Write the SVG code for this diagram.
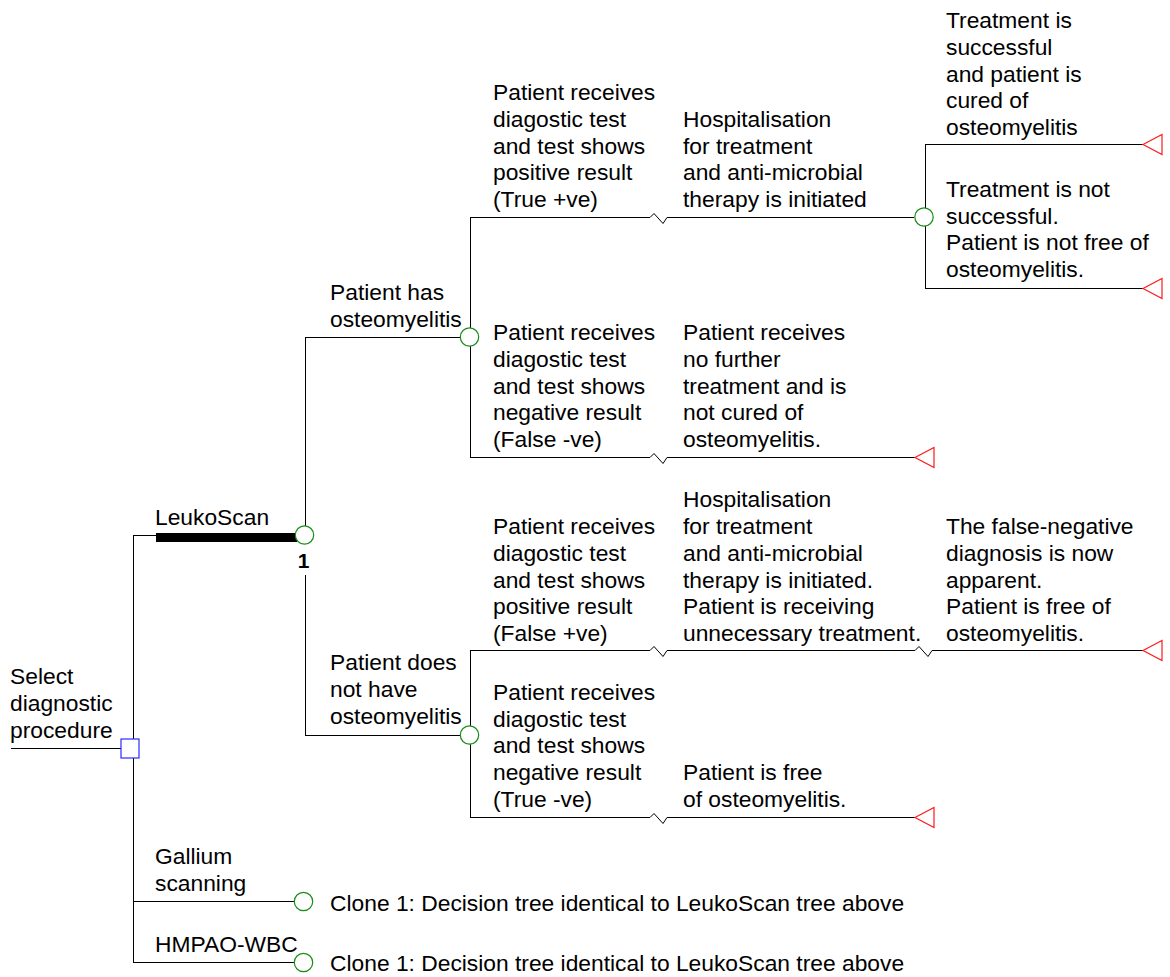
<svg xmlns="http://www.w3.org/2000/svg" width="1170" height="977" viewBox="0 0 1170 977">
<style>
text{font-family:"Liberation Sans",Arial,sans-serif;font-size:22.8px;fill:#000}
.ln{fill:none;stroke:#000;stroke-width:1}
.ch{fill:#fff;stroke:#1a8c1a;stroke-width:1.2}
.dec{fill:#fff;stroke:#2a2aff;stroke-width:1.2}
.term{fill:#fff;stroke:#ff1a1a;stroke-width:1.2}
.b{font-weight:bold;font-size:21px}
</style>
<rect width="1170" height="977" fill="#fff"/>
<g id="connectors">
<path class="ln" d="M11,748.5H121"/>
<path class="ln" d="M133.5,535V962"/>
<path class="ln" d="M133,535.5H156"/>
<rect x="156" y="533" width="141" height="9" fill="#000"/>
<path class="ln" d="M133,901.5H294"/>
<path class="ln" d="M133,962.5H294"/>
<path class="ln" d="M305.5,526V337M305.5,575V735"/>
<path class="ln" d="M305,337.5H460"/>
<path class="ln" d="M305,735.5H460"/>
<path class="ln" d="M470.5,217V457"/>
<path class="ln" d="M470.5,650V817"/>
<path class="ln" d="M470,217.5H650l4,-4l9,10l4,-6H914"/>
<path class="ln" d="M470,457.5H650l4,-4l9,10l4,-6H915"/>
<path class="ln" d="M470,650.5H650l4,-4l9,10l4,-6H915l4,-4l9,10l4,-6H1143"/>
<path class="ln" d="M470,817.5H650l4,-4l9,10l4,-6H915"/>
<path class="ln" d="M925.5,144V288"/>
<path class="ln" d="M925,144.5H1143"/>
<path class="ln" d="M925,288.5H1143"/>
</g>
<g id="node-decision">
<rect class="dec" x="121" y="739" width="18" height="19"/>
<text><tspan x="10" y="684">Select</tspan><tspan x="10" y="711">diagnostic</tspan><tspan x="10" y="738">procedure</tspan></text>
</g>
<g id="node-leukoscan">
<text x="155" y="525">LeukoScan</text>
<circle class="ch" cx="304.5" cy="535" r="9.2"/>
<text class="b" x="303.5" y="568" text-anchor="middle">1</text>
</g>
<g id="node-has">
<text><tspan x="330" y="300">Patient has</tspan><tspan x="330" y="327">osteomyelitis</tspan></text>
<circle class="ch" cx="469.5" cy="337" r="9.2"/>
</g>
<g id="node-truepos">
<text><tspan x="493" y="100">Patient receives</tspan><tspan x="493" y="127">diagostic test</tspan><tspan x="493" y="153.5">and test shows</tspan><tspan x="493" y="180">positive result</tspan><tspan x="493" y="207">(True +ve)</tspan></text>
<text><tspan x="683" y="127">Hospitalisation</tspan><tspan x="683" y="153.5">for treatment</tspan><tspan x="683" y="180">and anti-microbial</tspan><tspan x="683" y="207">therapy is initiated</tspan></text>
<circle class="ch" cx="924" cy="217" r="9.2"/>
</g>
<g id="node-success">
<text><tspan x="946" y="28">Treatment is</tspan><tspan x="946" y="55">successful</tspan><tspan x="946" y="81.5">and patient is</tspan><tspan x="946" y="108">cured of</tspan><tspan x="946" y="135">osteomyelitis</tspan></text>
<polygon class="term" points="1143,144.5 1162,134.5 1162,154.5"/>
</g>
<g id="node-notsuccess">
<text><tspan x="946" y="197">Treatment is not</tspan><tspan x="946" y="223.5">successful.</tspan><tspan x="946" y="250">Patient is not free of</tspan><tspan x="946" y="277">osteomyelitis.</tspan></text>
<polygon class="term" points="1143,288.5 1162,278.5 1162,298.5"/>
</g>
<g id="node-falseneg">
<text><tspan x="493" y="340">Patient receives</tspan><tspan x="493" y="367">diagostic test</tspan><tspan x="493" y="393.5">and test shows</tspan><tspan x="493" y="420">negative result</tspan><tspan x="493" y="447">(False -ve)</tspan></text>
<text><tspan x="683" y="340">Patient receives</tspan><tspan x="683" y="367">no further</tspan><tspan x="683" y="393.5">treatment and is</tspan><tspan x="683" y="420">not cured of</tspan><tspan x="683" y="447">osteomyelitis.</tspan></text>
<polygon class="term" points="915,457.5 934,447.5 934,467.5"/>
</g>
<g id="node-hasnot">
<text><tspan x="330" y="670">Patient does</tspan><tspan x="330" y="697">not have</tspan><tspan x="330" y="724">osteomyelitis</tspan></text>
<circle class="ch" cx="469.5" cy="735" r="9.2"/>
</g>
<g id="node-falsepos">
<text><tspan x="493" y="534">Patient receives</tspan><tspan x="493" y="561">diagostic test</tspan><tspan x="493" y="587.5">and test shows</tspan><tspan x="493" y="614">positive result</tspan><tspan x="493" y="641">(False +ve)</tspan></text>
<text><tspan x="683" y="507">Hospitalisation</tspan><tspan x="683" y="534">for treatment</tspan><tspan x="683" y="561">and anti-microbial</tspan><tspan x="683" y="587.5">therapy is initiated.</tspan><tspan x="683" y="614">Patient is receiving</tspan><tspan x="683" y="641">unnecessary treatment.</tspan></text>
<text><tspan x="946" y="534">The false-negative</tspan><tspan x="946" y="561">diagnosis is now</tspan><tspan x="946" y="587.5">apparent.</tspan><tspan x="946" y="614">Patient is free of</tspan><tspan x="946" y="641">osteomyelitis.</tspan></text>
<polygon class="term" points="1143,650.5 1162,640.5 1162,660.5"/>
</g>
<g id="node-trueneg">
<text><tspan x="493" y="700">Patient receives</tspan><tspan x="493" y="726.5">diagostic test</tspan><tspan x="493" y="753">and test shows</tspan><tspan x="493" y="780">negative result</tspan><tspan x="493" y="806.5">(True -ve)</tspan></text>
<text><tspan x="683" y="780">Patient is free</tspan><tspan x="683" y="806.5">of osteomyelitis.</tspan></text>
<polygon class="term" points="915,817.5 934,807.5 934,827.5"/>
</g>
<g id="node-gallium">
<text><tspan x="155" y="864">Gallium</tspan><tspan x="155" y="891">scanning</tspan></text>
<circle class="ch" cx="303.5" cy="901.5" r="9.2"/>
<text x="330" y="911">Clone 1: Decision tree identical to LeukoScan tree above</text>
</g>
<g id="node-hmpao">
<text x="155" y="952">HMPAO-WBC</text>
<circle class="ch" cx="303.5" cy="962.5" r="9.2"/>
<text x="330" y="971">Clone 1: Decision tree identical to LeukoScan tree above</text>
</g>
</svg>
